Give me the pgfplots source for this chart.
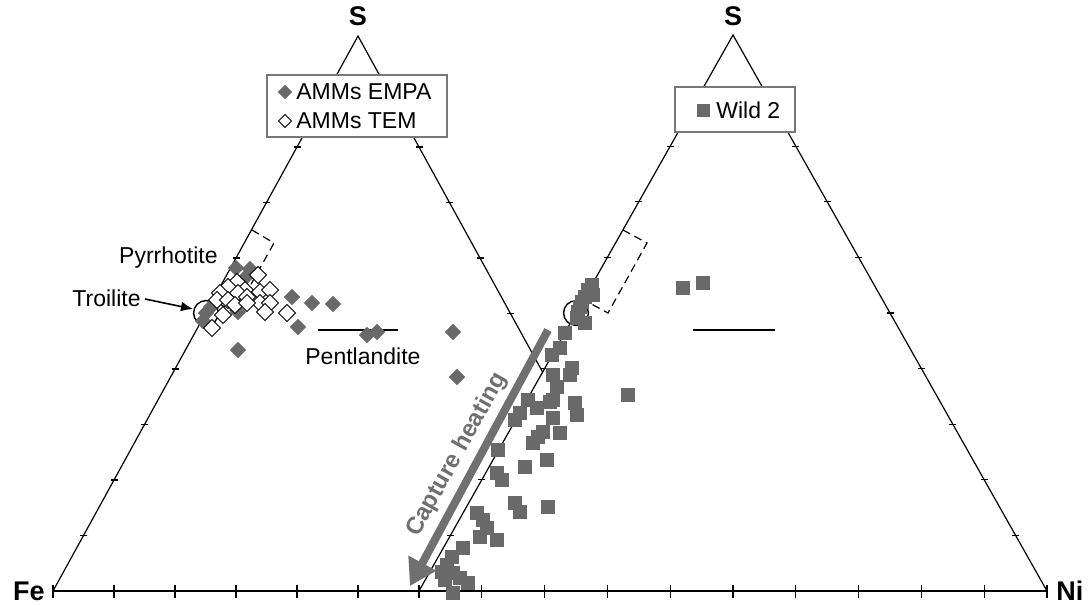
\documentclass[border=0pt]{standalone}
\usepackage{pgfplots}
\pgfplotsset{compat=1.18}
\usepackage{fontspec}
\setmainfont{Liberation Sans}
\usetikzlibrary{arrows.meta}
\definecolor{mkgray}{RGB}{105,105,105}
\definecolor{argray}{RGB}{112,112,112}
\definecolor{boxgray}{RGB}{120,120,120}
\begin{document}
\begin{tikzpicture}
\begin{axis}[x=0.5pt, y=0.5pt, y dir=reverse, xmin=0, xmax=1088, ymin=0, ymax=605,
  hide axis, clip=false, scale only axis]
\addplot[draw=none, forget plot] coordinates {(0,0) (1088,605)};
% triangles
\addplot[black, line width=0.6pt] coordinates {(53,591) (1047,591)};
\addplot[black, line width=0.6pt] coordinates {(53,591) (358,36) (542.6,372)};
\addplot[black, line width=0.6pt] coordinates {(419,591) (733,35) (1047,591)};
% base ticks
\addplot[only marks, mark=|, mark size=3.25pt, mark options={line width=0.6pt}] coordinates {
(53,591) (114,591) (175,591) (236,591) (297,591) (358,591) (419,591)
(481.8,591) (544.6,591) (607.4,591) (670.2,591) (733,591) (795.8,591) (858.6,591) (921.4,591) (984.2,591) (1047,591)};
% side ticks
\addplot[only marks, mark=-, mark size=1.75pt, mark options={line width=0.6pt}] coordinates {
(83.5,535.5) (114,480) (144.5,424.5) (175,369) (205.5,313.5) (236,258) (266.5,202.5) (297,147)
(419,147) (449.5,202.5) (480,258) (510.5,313.5)
(450.4,535.4) (481.8,479.8) (513.2,424.2) (544.6,368.6) (576,313) (607.4,257.4) (638.8,201.8) (670.2,146.2)
(795.8,146.2) (827.2,201.8) (858.6,257.4) (890,313) (921.4,368.6) (952.8,424.2) (984.2,479.8) (1015.6,535.4)};
% troilite circles
\addplot[only marks, mark=o, mark size=6.2pt, mark options={line width=0.7pt}] coordinates {(206,313) (576,313)};
% pyrrhotite dashed boxes
\addplot[black, line width=0.6pt, dash pattern=on 4pt off 2.5pt] coordinates {(252,230) (274,243) (235,313) (213,300)};
\addplot[black, line width=0.6pt, dash pattern=on 4pt off 2.5pt] coordinates {(623,230) (647,243) (608,313) (584,300)};
% pentlandite lines
\addplot[black, line width=0.7pt] coordinates {(318,330) (398,330)};
\addplot[black, line width=0.7pt] coordinates {(693,330) (775,330)};
% AMMs EMPA
\addplot[only marks, mark=square*, mark size=2.7pt, mark options={rotate=45, fill=mkgray, draw=mkgray}] coordinates {
(236,268) (250,269) (247,276) (238,312) (206,313) (203,321) (211,307) (292,297) (312,303) (333,304)
(298,327) (238,350) (367,335) (377,332) (453,332) (457,377)};
% AMMs TEM
\addplot[only marks, mark=square*, mark size=3pt, mark options={rotate=45, fill=white, draw=black, line width=0.5pt}] coordinates {
(258,275) (237,282) (228,287) (220,293) (245,290) (238,293) (217,300) (228,300) (235,305) (247,297) (260,292) (270,290)
(260,303) (270,303) (247,303) (265,312) (223,315) (212,328) (287,313)};
% Wild 2
\addplot[only marks, mark=square*, mark size=3.4pt, mark options={fill=mkgray, draw=mkgray}] coordinates {
(592,285) (588,290) (593,295) (585,297) (582,302) (580,307) (578,312) (577,318) (585,323) (565,333)
(560,348) (552,355) (572,368) (570,375) (553,375) (557,387) (553,400) (550,402) (528,400) (537,408)
(520,413) (515,420) (575,403) (577,415) (553,418) (628,395) (683,288) (703,283) (543,432) (538,437)
(533,443) (560,433) (498,450) (547,460) (525,467) (497,473) (502,480) (515,503) (520,512) (548,507)
(477,513) (483,520) (487,528) (480,537) (497,540) (463,548) (452,557) (447,565) (442,572) (453,573)
(445,580) (460,578) (468,583) (453,593)};
% capture heating arrow
\addplot[argray, line width=4pt, -{Triangle[width=15pt,length=13pt]}] coordinates {(548,330) (410,586)};
\node[rotate=61, text=argray, font=\fontsize{12}{14}\selectfont\bfseries] at (axis cs:457,455) {Capture heating};
% legend boxes
\draw[boxgray, line width=0.6pt, fill=white] (axis cs:267,75) rectangle (axis cs:447,137);
\draw[boxgray, line width=0.6pt, fill=white] (axis cs:675,87) rectangle (axis cs:795,132);
\addplot[only marks, mark=square*, mark size=2.3pt, mark options={rotate=45, fill=mkgray, draw=mkgray}] coordinates {(285,92)};
\addplot[only marks, mark=square*, mark size=2.3pt, mark options={rotate=45, fill=white, draw=black, line width=0.5pt}] coordinates {(285,121)};
\addplot[only marks, mark=square*, mark size=3pt, mark options={fill=mkgray, draw=mkgray}] coordinates {(703,110)};
\node[anchor=west, font=\fontsize{11.5}{13}\selectfont, inner sep=0pt] at (axis cs:296,92) {AMMs EMPA};
\node[anchor=west, font=\fontsize{11.5}{13}\selectfont, inner sep=0pt] at (axis cs:296,121) {AMMs TEM};
\node[anchor=west, font=\fontsize{11.5}{13}\selectfont, inner sep=0pt] at (axis cs:716,110) {Wild 2};
% labels
\node[anchor=east, font=\fontsize{11.5}{13}\selectfont, inner sep=0pt] at (axis cs:218,258) {Pyrrhotite};
\node[anchor=east, font=\fontsize{11.5}{13}\selectfont, inner sep=0pt] at (axis cs:141,298) {Troilite};
\addplot[black, line width=0.8pt, -{Latex[length=6pt,width=5pt]}] coordinates {(145,299) (193,309)};
\node[anchor=west, font=\fontsize{11.5}{13}\selectfont, inner sep=0pt] at (axis cs:305,356) {Pentlandite};
\node[font=\fontsize{13.5}{15}\selectfont\bfseries, inner sep=0pt] at (axis cs:358,16) {S};
\node[font=\fontsize{13.5}{15}\selectfont\bfseries, inner sep=0pt] at (axis cs:733,16) {S};
\node[anchor=east, font=\fontsize{13.5}{15}\selectfont\bfseries, inner sep=0pt] at (axis cs:45,591) {Fe};
\node[anchor=west, font=\fontsize{13.5}{15}\selectfont\bfseries, inner sep=0pt] at (axis cs:1056,591) {Ni};
\end{axis}
\end{tikzpicture}
\end{document}
